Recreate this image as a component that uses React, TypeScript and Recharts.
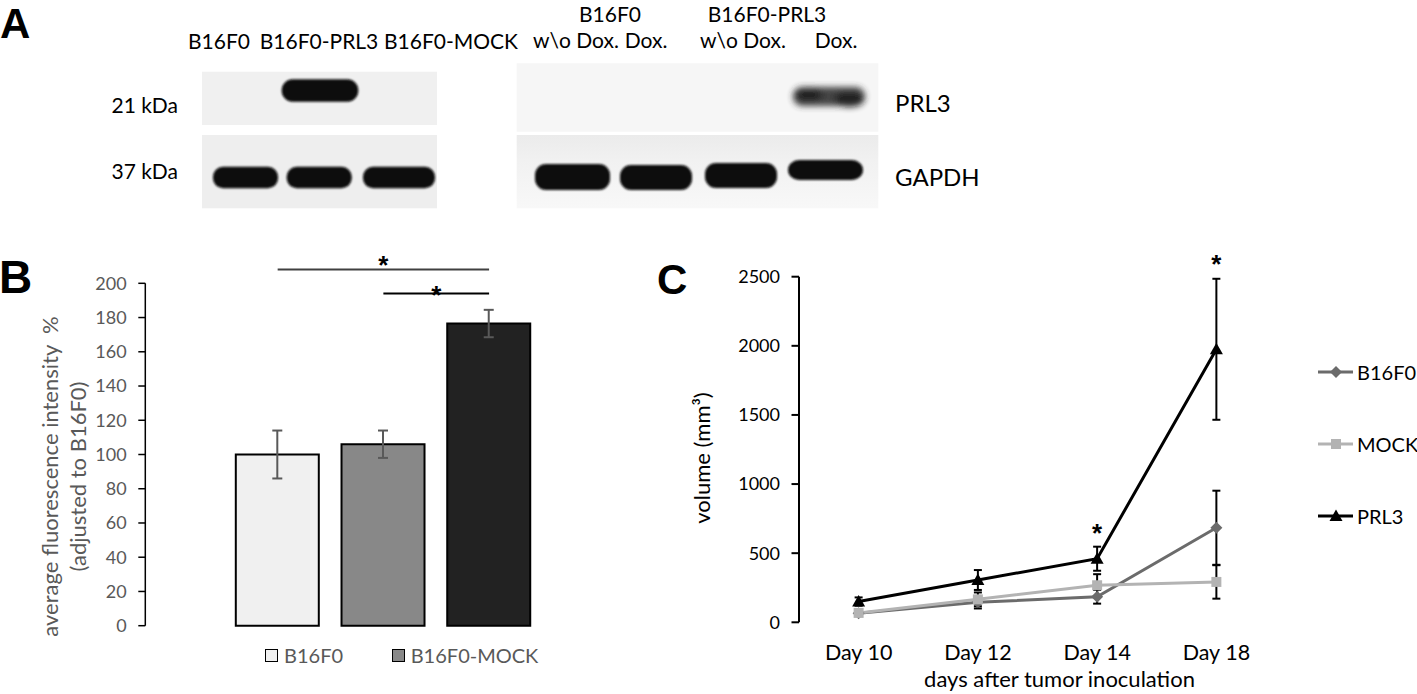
import React from "react";
import {
  Bar,
  BarChart,
  Cell,
  ComposedChart,
  ErrorBar,
  Legend,
  Line,
  ReferenceDot,
  ReferenceLine,
  XAxis,
  YAxis,
} from "recharts";

const FONT = "Lato, 'Open Sans', sans-serif";
const LETTER_FONT = "'Liberation Sans', Arial, sans-serif";

/* ── Panel A: western blot lanes ── */
const blotLeftLanes = ["B16F0", "B16F0-PRL3", "B16F0-MOCK"];
const blotLeftPrl3 = [0, 1, 0];
const blotLeftGapdh = [1, 1, 1];
const blotRightGroups = ["B16F0", "B16F0-PRL3"];
const blotRightLanes = ["w\\o Dox.", "Dox.", "w\\o Dox.", "Dox."];
const blotRightPrl3 = [0, 0, 0, 0.9];
const blotRightGapdh = [1, 1, 1, 1];
const blotMarkers = ["21 kDa", "37 kDa"];
const blotProteins = ["PRL3", "GAPDH"];

/* ── Panel B: fluorescence intensity ── */
const bGroups = ["B16F0", "B16F0-MOCK", "B16F0-PRL3"];
const bMeans = [100, 106, 176.5];
const bErrors = [14, 8, 8];
const bTicks = [0, 20, 40, 60, 80, 100, 120, 140, 160, 180, 200];
const bSigFrom = ["B16F0", "B16F0-MOCK"];
const bSigTo = ["B16F0-PRL3", "B16F0-PRL3"];
const bSigY = [208, 194];
const bLegendItems = ["B16F0", "B16F0-MOCK"];

/* ── Panel C: tumour volume ── */
const cDays = ["Day 10", "Day 12", "Day 14", "Day 18"];
const cB16f0 = [65, 145, 185, 684];
const cB16f0Err = [15, 45, 50, 268];
const cMock = [68, 166, 268, 292];
const cMockErr = [15, 50, 80, 121];
const cPrl3 = [150, 306, 460, 1975];
const cPrl3Err = [30, 72, 87, 510];
const cTicks = [0, 500, 1000, 1500, 2000, 2500];
const cStarDays = ["Day 14", "Day 18"];
const cStarY = [646, 2592];

const B_FILLS = ["#f0f0f0", "#888888", "#222222"];
const B_TEXT = "#595959";

const C_SERIES = [
  { key: "b16f0", err: "b16f0Err", name: "B16F0", color: "#6b6b6b", shape: "diamond" },
  { key: "mock", err: "mockErr", name: "MOCK", color: "#b3b3b3", shape: "square" },
  { key: "prl3", err: "prl3Err", name: "PRL3", color: "#000000", shape: "triangle" },
];

const STAR_STYLE = { fill: "#000", fontSize: 26, fontWeight: 700, fontFamily: LETTER_FONT };

function markerPath(shape: string, cx: number, cy: number) {
  if (shape === "diamond") return `M${cx},${cy - 6} L${cx + 6},${cy} L${cx},${cy + 6} L${cx - 6},${cy} Z`;
  if (shape === "square") return `M${cx - 5},${cy - 5} h10 v10 h-10 Z`;
  return `M${cx},${cy - 6.5} L${cx + 6.5},${cy + 5} L${cx - 6.5},${cy + 5} Z`;
}

const makeDot = (shape: string, color: string) => (props: any) => {
  const { cx, cy, index } = props;
  if (cx == null || cy == null) return <g key={`${shape}-x-${index}`} />;
  return <path key={`${shape}-${index}`} d={markerPath(shape, cx, cy)} fill={color} />;
};

/* small absolutely positioned text helper */
function T({
  x,
  y,
  anchor = "middle",
  size = 21,
  color = "#000",
  weight = 400,
  font = FONT,
  children,
}: {
  x: number;
  y: number;
  anchor?: "start" | "middle" | "end";
  size?: number;
  color?: string;
  weight?: number;
  font?: string;
  children: React.ReactNode;
}) {
  const tx = anchor === "middle" ? "-50%" : anchor === "end" ? "-100%" : "0";
  return (
    <div
      style={{
        position: "absolute",
        left: x,
        top: y,
        transform: `translate(${tx}, -50%)`,
        fontFamily: font,
        fontSize: size,
        fontWeight: weight,
        color,
        lineHeight: 1,
        whiteSpace: "pre",
      }}
    >
      {children}
    </div>
  );
}

/* ────────────── Panel A ────────────── */

function PanelA() {
  const leftX = [219, 319, 451];
  const leftPrl3Lanes = [[206, 270], [281.7, 358.3], [368, 430]];
  const leftGapdhLanes = [[213, 278], [286.7, 351.7], [363, 435]];
  const rightX = [576, 646, 743, 836];
  const rightGroupX = [610, 767];
  const rightPrl3Lanes = [[535, 610], [620, 692], [705, 777], [793, 865]];
  const rightGapdhLanes = [[535, 610, 164, 190], [620, 692, 165, 190], [705, 777, 163, 188], [788, 863, 160, 180]];

  return (
    <>
      <svg width={900} height={215} style={{ position: "absolute", left: 0, top: 0 }}>
        <defs>
          <filter id="soft" x="-20%" y="-60%" width="140%" height="220%">
            <feGaussianBlur stdDeviation="1.3" />
          </filter>
          <filter id="fuzzy" x="-30%" y="-100%" width="160%" height="300%">
            <feGaussianBlur stdDeviation="3.2" />
          </filter>
          <linearGradient id="memR" x1="0" y1="0" x2="0" y2="1">
            <stop offset="0" stopColor="#ebebeb" />
            <stop offset="0.35" stopColor="#f1f1f1" />
            <stop offset="1" stopColor="#f8f8f8" />
          </linearGradient>
        </defs>
        {/* left membranes */}
        <rect x={202} y={71.7} width={235} height={53.3} fill="#f0f0f0" />
        <rect x={202} y={135} width={235} height={73.3} fill="#eeeeee" />
        {leftPrl3Lanes.map(([a, b], i) =>
          blotLeftPrl3[i] > 0 ? (
            <rect key={`lp${i}`} x={a} y={79.3} width={b - a} height={22.4} rx={11} fill="#0a0a0a" opacity={blotLeftPrl3[i]} filter="url(#soft)" />
          ) : null
        )}
        {leftGapdhLanes.map(([a, b], i) => (
          <rect key={`lg${i}`} x={a} y={166.7} width={b - a} height={21.6} rx={10} fill="#0a0a0a" opacity={blotLeftGapdh[i]} filter="url(#soft)" />
        ))}
        {/* right membranes */}
        <rect x={516.7} y={63.3} width={361.6} height={68.4} fill="#f6f6f6" />
        <rect x={516.7} y={135} width={361.6} height={73.3} fill="url(#memR)" />
        {rightPrl3Lanes.map(([a, b], i) =>
          blotRightPrl3[i] > 0 ? (
            <g key={`rp${i}`} filter="url(#fuzzy)" opacity={blotRightPrl3[i]}>
              <rect x={a} y={87} width={b - a} height={19} rx={9} fill="#303030" />
              <ellipse cx={a + 16} cy={95} rx={14} ry={7} fill="#111" />
              <ellipse cx={b - 16} cy={99} rx={15} ry={8} fill="#111" />
            </g>
          ) : null
        )}
        {rightGapdhLanes.map(([a, b, t, bt], i) => (
          <rect key={`rg${i}`} x={a} y={t} width={b - a} height={bt - t} rx={11} fill="#0a0a0a" opacity={blotRightGapdh[i]} filter="url(#soft)" />
        ))}
      </svg>

      <T x={0} y={24} anchor="start" size={42} weight={700} font={LETTER_FONT}>A</T>
      {blotLeftLanes.map((l, i) => (
        <T key={l} x={leftX[i]} y={40}>{l}</T>
      ))}
      {blotRightGroups.map((g, i) => (
        <T key={g} x={rightGroupX[i]} y={13}>{g}</T>
      ))}
      {blotRightLanes.map((l, i) => (
        <T key={`${l}${i}`} x={rightX[i]} y={39}>{l}</T>
      ))}
      <T x={178} y={104} anchor="end">{blotMarkers[0]}</T>
      <T x={178} y={170} anchor="end">{blotMarkers[1]}</T>
      <T x={895} y={103} anchor="start" size={24}>{blotProteins[0]}</T>
      <T x={895} y={177} anchor="start" size={24}>{blotProteins[1]}</T>
    </>
  );
}

/* ────────────── Panel B ────────────── */

function BLegend() {
  const lefts = [0, 126.7];
  return (
    <div style={{ position: "relative", height: 24, width: 300 }}>
      {bLegendItems.map((name, i) => (
        <div key={name} style={{ position: "absolute", left: lefts[i], top: 0, display: "flex", alignItems: "center" }}>
          <div style={{ width: 11, height: 11, border: "1.5px solid #000", background: B_FILLS[i] }} />
          <span style={{ marginLeft: 6, fontFamily: FONT, fontSize: 20, color: B_TEXT, lineHeight: "24px" }}>{name}</span>
        </div>
      ))}
    </div>
  );
}

function PanelB() {
  const data = bGroups.map((g, i) => ({ group: g, mean: bMeans[i], err: bErrors[i] }));
  return (
    <div style={{ position: "absolute", left: 0, top: 240 }}>
      <BarChart
        width={640}
        height={454}
        data={data}
        margin={{ top: 43.3, right: 18.3, bottom: 68.3, left: 0 }}
        style={{ fontFamily: FONT }}
      >
        <XAxis
          xAxisId="edge"
          type="number"
          domain={[0, 1]}
          ticks={[0, 1]}
          allowDataOverflow
          tick={false}
          tickSize={7}
          tickLine={{ stroke: "#000", strokeWidth: 2 }}
          axisLine={{ stroke: "#000", strokeWidth: 2 }}
          height={0}
        />
        <XAxis xAxisId="cat" dataKey="group" type="category" hide padding={{ left: 79.5, right: 79.75 }} />
        <YAxis
          domain={[0, 200]}
          ticks={bTicks}
          width={145.3}
          tickSize={7}
          tickMargin={11.6}
          tick={{ fill: B_TEXT, fontSize: 18, fontFamily: FONT }}
          tickLine={{ stroke: "#000", strokeWidth: 1.5 }}
          axisLine={{ stroke: "#000", strokeWidth: 1.5 }}
          label={{
            content: (props: any) => {
              const vb = props.viewBox || { x: 0, y: 43.3, width: 145.3, height: 342.4 };
              const ax = vb.x + vb.width;
              const cy = vb.y + vb.height / 2 + 22;
              const style = { fontFamily: FONT, fontSize: 22, fill: B_TEXT, whiteSpace: "pre" } as any;
              return (
                <g>
                  <text x={ax - 96} y={cy} transform={`rotate(-90, ${ax - 96}, ${cy})`} textAnchor="middle" dominantBaseline="central" style={style}>
                    {"average fluorescence intensity  %"}
                  </text>
                  <text x={ax - 67.5} y={cy} transform={`rotate(-90, ${ax - 67.5}, ${cy})`} textAnchor="middle" dominantBaseline="central" style={style}>
                    (adjusted to B16F0)
                  </text>
                </g>
              );
            },
          }}
        />
        <Bar xAxisId="cat" dataKey="mean" barSize={83} stroke="#000" strokeWidth={2} isAnimationActive={false}>
          {data.map((d, i) => (
            <Cell key={d.group} fill={B_FILLS[i]} />
          ))}
          <ErrorBar dataKey="err" width={5} stroke={B_TEXT} strokeWidth={2} />
        </Bar>
        {bSigY.map((y, i) => (
          <ReferenceLine
            key={`sig${i}`}
            xAxisId="cat"
            segment={[
              { x: bSigFrom[i], y },
              { x: bSigTo[i], y },
            ]}
            stroke={i === 0 ? "#404040" : "#000"}
            strokeWidth={2}
            ifOverflow="visible"
            label={{ value: "*", position: "top", offset: i === 0 ? -4 : -10, ...STAR_STYLE }}
          />
        ))}
        <Legend
          layout="vertical"
          align="center"
          verticalAlign="middle"
          wrapperStyle={{ left: 265, top: 403, width: 300 }}
          content={() => <BLegend />}
        />
      </BarChart>
      <T x={-1} y={37} anchor="start" size={46} weight={700} font={LETTER_FONT}>B</T>
    </div>
  );
}

/* ────────────── Panel C ────────────── */

function CLegend() {
  return (
    <div style={{ position: "relative", height: 170, width: 120 }}>
      {C_SERIES.map((s, i) => (
        <div key={s.key} style={{ position: "absolute", left: 0, top: i * 72, display: "flex", alignItems: "center", height: 24 }}>
          <svg width={36} height={24}>
            <line x1={0} y1={12} x2={35} y2={12} stroke={s.color} strokeWidth={3} />
            <path d={markerPath(s.shape, 18, 12)} fill={s.color} />
          </svg>
          <span style={{ marginLeft: 3, fontFamily: FONT, fontSize: 20, color: "#000", lineHeight: "24px" }}>{s.name}</span>
        </div>
      ))}
    </div>
  );
}

function PanelC() {
  const data = cDays.map((d, i) => ({
    day: d,
    b16f0: cB16f0[i],
    b16f0Err: cB16f0Err[i],
    mock: cMock[i],
    mockErr: cMockErr[i],
    prl3: cPrl3[i],
    prl3Err: cPrl3Err[i],
  }));
  return (
    <div style={{ position: "absolute", left: 600, top: 240 }}>
      <ComposedChart
        width={817}
        height={454}
        data={data}
        margin={{ top: 36.7, right: 141, bottom: 0, left: 7 }}
        style={{ fontFamily: FONT }}
      >
        <XAxis
          xAxisId="edge"
          type="number"
          domain={[0, 4]}
          ticks={[0, 1, 2, 3, 4]}
          allowDataOverflow
          tick={false}
          tickSize={7}
          tickLine={{ stroke: "#000", strokeWidth: 2 }}
          axisLine={{ stroke: "#000", strokeWidth: 2 }}
          height={0}
        />
        <XAxis
          xAxisId="cat"
          dataKey="day"
          type="category"
          scale="band"
          interval={0}
          axisLine={false}
          tickLine={false}
          height={71.7}
          tickMargin={16}
          tick={{ fill: "#000", fontSize: 21.5, fontFamily: FONT }}
          label={{
            content: (props: any) => {
              const vb = props.viewBox || { x: 199, y: 382.3, width: 477, height: 71.7 };
              const cx = vb.x + vb.width / 2 + 22;
              const cy = vb.y + 56.5;
              return (
                <text x={cx} y={cy} textAnchor="middle" dominantBaseline="central" style={{ fontFamily: FONT, fontSize: 22, fill: "#000" }}>
                  days after tumor inoculation
                </text>
              );
            },
          }}
        />
        <YAxis
          domain={[0, 2500]}
          ticks={cTicks}
          width={192}
          tickSize={7.5}
          tickMargin={11.5}
          tick={{ fill: "#000", fontSize: 18, fontFamily: FONT }}
          tickLine={{ stroke: "#000", strokeWidth: 2 }}
          axisLine={{ stroke: "#000", strokeWidth: 2 }}
          label={{
            content: (props: any) => {
              const vb = props.viewBox || { x: 7, y: 36.7, width: 192, height: 345.6 };
              const cx = vb.x + vb.width - 98;
              const cy = vb.y + vb.height / 2 + 8.5;
              return (
                <text x={cx} y={cy} transform={`rotate(-90, ${cx}, ${cy})`} textAnchor="middle" dominantBaseline="central" style={{ fontFamily: FONT, fontSize: 22, fill: "#000" }}>
                  volume (mm³)
                </text>
              );
            },
          }}
        />
        {C_SERIES.map((s) => (
          <Line
            key={s.key}
            xAxisId="cat"
            dataKey={s.key}
            name={s.name}
            stroke={s.color}
            strokeWidth={3}
            dot={makeDot(s.shape, s.color)}
            activeDot={false}
            isAnimationActive={false}
          >
            <ErrorBar dataKey={s.err} width={4} stroke="#000" strokeWidth={2} direction="y" />
          </Line>
        ))}
        {cStarDays.map((d, i) => (
          <ReferenceDot
            key={`star${i}`}
            xAxisId="cat"
            x={d}
            y={cStarY[i]}
            r={0}
            fill="none"
            stroke="none"
            ifOverflow="visible"
            label={{ value: "*", position: "center", ...STAR_STYLE }}
          />
        ))}
        <Legend
          layout="vertical"
          align="center"
          verticalAlign="middle"
          wrapperStyle={{ left: 718, top: 120, width: 110 }}
          content={() => <CLegend />}
        />
      </ComposedChart>
      <T x={57} y={40} anchor="start" size={42} weight={700} font={LETTER_FONT}>C</T>
    </div>
  );
}

export default function App() {
  return (
    <div style={{ position: "relative", width: 1417, height: 694, background: "#fff", overflow: "hidden" }}>
      <style>{"body{margin:0}"}</style>
      <PanelA />
      <PanelB />
      <PanelC />
    </div>
  );
}
